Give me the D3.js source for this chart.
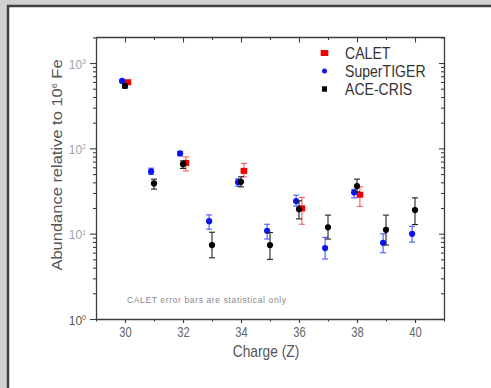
<!DOCTYPE html>
<html>
<head>
<meta charset="utf-8">
<script src="https://cdn.jsdelivr.net/npm/d3@7"></script>
<style>
  body { margin: 0; background: #d3d3d3; }
  svg { display: block; font-family: "Liberation Sans", Arial, sans-serif; }
</style>
</head>
<body>
<svg id="chart" width="491" height="388"></svg>
<script>
// tick values
const majorZ = [30, 32, 34, 36, 38, 40];
const minorZ = [29, 31, 33, 35, 37, 39, 41];
const yDecades = [1, 10, 100, 1000];
const yExp = ['0', '1', '2', '3'];

// CALET
const caletZ = [30, 32, 34, 36, 38];
const caletVal = [596, 67.6, 54.5, 19.8, 28.6];
const caletLo = [570, 54.5, 46.4, 12.9, 20.9];
const caletHi = [625, 79.5, 66.6, 26.6, 35.4];

// SuperTIGER
const superZ = [30, 31, 32, 33, 34, 35, 36, 37, 38, 39, 40];
const superVal = [617, 53.6, 87.2, 14.0, 40.2, 10.8, 24.1, 6.78, 30.4, 7.83, 9.97];
const superLo = [600, 49.5, 82, 11.3, 36, 8.65, 21.1, 5.04, 26.3, 5.98, 7.97];
const superHi = [635, 58.6, 92, 16.6, 44, 12.9, 28.3, 9.05, 33.0, 9.97, 12.2];

// ACE-CRIS
const aceZ = [30, 31, 32, 33, 34, 35, 36, 37, 38, 39, 40];
const aceVal = [539, 38.8, 65.3, 7.36, 40.5, 7.36, 19.4, 11.9, 36.1, 11.1, 18.9];
const aceLo = [510, 33.3, 58.2, 5.22, 35.4, 5.0, 14.9, 8.65, 30.9, 7.36, 12.8];
const aceHi = [570, 43.6, 71.4, 10.4, 46.4, 10.3, 24.3, 16.5, 43.6, 16.5, 26.3];

const series = [
  { name: 'CALET', z: caletZ, v: caletVal, lo: caletLo, hi: caletHi, off: 0.1,
    color: '#f20000', err: '#ff5a5a', shape: 'square' },
  { name: 'SuperTIGER', z: superZ, v: superVal, lo: superLo, hi: superHi, off: -0.1,
    color: '#0a14f0', err: '#4a58ff', shape: 'circle' },
  { name: 'ACE-CRIS', z: aceZ, v: aceVal, lo: aceLo, hi: aceHi, off: 0,
    color: '#000000', err: '#222222', shape: 'circle' }
];

const svg = d3.select('#chart');

// panel
svg.append('rect')
  .attr('x', 0).attr('y', 0).attr('width', 491).attr('height', 388)
  .attr('fill', '#d0d0d0');
svg.append('rect')
  .attr('x', 8).attr('y', 6).attr('width', 500).attr('height', 400)
  .attr('fill', '#fff').attr('stroke', '#404040').attr('stroke-width', 2.5);

const margin = { top: 37, right: 47, bottom: 69, left: 96 };
const width = 491 - margin.left - margin.right;
const height = 388 - margin.top - margin.bottom;

const x = d3.scaleLinear().domain([29, 41]).range([0, width]);
const y = d3.scaleLog().domain([1, 2020]).range([height, 0]);

const g = svg.append('g')
  .attr('transform', 'translate(' + margin.left + ',' + margin.top + ')');

const minorY = [];
yDecades.forEach(function (d) {
  for (let k = 2; k <= 9; k++) {
    if (d * k < 2020) minorY.push(d * k);
  }
});

const axisColor = '#3c3c3c';

function styleAxis(sel) {
  sel.selectAll('.domain').attr('stroke', axisColor).attr('stroke-width', 1.3);
  sel.selectAll('.tick line').attr('stroke', axisColor).attr('stroke-width', 1.1);
}

// bottom axis
const axBottom = g.append('g')
  .attr('transform', 'translate(0,' + height + ')')
  .call(d3.axisBottom(x).tickValues(majorZ).tickSize(4).tickSizeOuter(0).tickPadding(4.3));
styleAxis(axBottom);
axBottom.selectAll('.tick text')
  .attr('font-size', 14).attr('fill', '#666')
  .attr('transform', 'scale(0.8,1)');
g.append('g')
  .attr('transform', 'translate(0,' + height + ')')
  .call(d3.axisBottom(x).tickValues(minorZ).tickSize(2.5).tickFormat(''))
  .call(function (s) { s.select('.domain').remove(); styleAxis(s); });

// top axis (ticks inward)
const axTop = g.append('g')
  .call(d3.axisTop(x).tickValues(majorZ).tickSize(-5.5).tickSizeOuter(0).tickFormat(''));
styleAxis(axTop);
g.append('g')
  .call(d3.axisTop(x).tickValues(minorZ).tickSize(-3).tickFormat(''))
  .call(function (s) { s.select('.domain').remove(); styleAxis(s); });

// left axis
const axLeft = g.append('g')
  .call(d3.axisLeft(y).tickValues(yDecades).tickSize(6).tickSizeOuter(0).tickPadding(4)
    .tickFormat(function () { return ''; }));
styleAxis(axLeft);
axLeft.selectAll('.tick text').each(function (d, i) {
  const t = d3.select(this)
    .attr('font-size', 12)
    .attr('dy', '0.42em')
    .attr('fill', i === 0 ? '#555' : '#9aa3ad');
  t.append('tspan').text('10');
  t.append('tspan').attr('dy', -4.5).attr('font-size', 7).text(yExp[i]);
});
g.append('g')
  .call(d3.axisLeft(y).tickValues(minorY).tickSize(3).tickFormat(''))
  .call(function (s) { s.select('.domain').remove(); styleAxis(s); });

// right axis (ticks inward)
const axRight = g.append('g')
  .attr('transform', 'translate(' + width + ',0)')
  .call(d3.axisRight(y).tickValues(yDecades).tickSize(-5).tickSizeOuter(0).tickFormat(''));
styleAxis(axRight);
g.append('g')
  .attr('transform', 'translate(' + width + ',0)')
  .call(d3.axisRight(y).tickValues(minorY).tickSize(-3).tickFormat(''))
  .call(function (s) { s.select('.domain').remove(); styleAxis(s); });

// axis titles
g.append('text')
  .attr('transform', 'translate(' + (width / 2 - 4) + ',' + (height + 38) + ') scale(0.86,1)')
  .attr('text-anchor', 'middle')
  .attr('font-size', 16)
  .attr('fill', '#555')
  .text('Charge (Z)');

const ylab = g.append('text')
  .attr('transform', 'translate(-34,' + 128 + ') scale(0.85,1) rotate(-90)')
  .attr('text-anchor', 'middle')
  .attr('font-size', 16.5)
  .attr('fill', '#555');
ylab.append('tspan').text('Abundance relative to 10');
ylab.append('tspan').attr('dy', -6).attr('font-size', 9).text('6');
ylab.append('tspan').attr('dy', 6).text(' Fe');

// note
g.append('text')
  .attr('x', 31).attr('y', 266)
  .attr('font-size', 8.5)
  .attr('fill', '#8a8a8a')
  .attr('textLength', 159)
  .attr('lengthAdjust', 'spacing')
  .text('CALET error bars are statistical only');

// data: error bars then markers
series.forEach(function (s) {
  const pts = s.z.map(function (z, i) {
    return { z: z + s.off, v: s.v[i], lo: s.lo[i], hi: s.hi[i] };
  });
  const sg = g.append('g');
  const eb = sg.selectAll('g.err').data(pts).enter().append('g')
    .attr('stroke', s.err).attr('stroke-width', 1.1);
  eb.append('line')
    .attr('x1', function (d) { return x(d.z); }).attr('x2', function (d) { return x(d.z); })
    .attr('y1', function (d) { return y(d.lo); }).attr('y2', function (d) { return y(d.hi); });
  eb.append('line')
    .attr('x1', function (d) { return x(d.z) - 3; }).attr('x2', function (d) { return x(d.z) + 3; })
    .attr('y1', function (d) { return y(d.lo); }).attr('y2', function (d) { return y(d.lo); });
  eb.append('line')
    .attr('x1', function (d) { return x(d.z) - 3; }).attr('x2', function (d) { return x(d.z) + 3; })
    .attr('y1', function (d) { return y(d.hi); }).attr('y2', function (d) { return y(d.hi); });

  if (s.shape === 'square') {
    sg.selectAll('rect').data(pts).enter().append('rect')
      .attr('x', function (d) { return x(d.z) - 3.3; })
      .attr('y', function (d) { return y(d.v) - 3; })
      .attr('width', 6.6).attr('height', 6)
      .attr('fill', s.color);
  } else {
    sg.selectAll('circle').data(pts).enter().append('circle')
      .attr('cx', function (d) { return x(d.z); })
      .attr('cy', function (d) { return y(d.v); })
      .attr('r', 3.1)
      .attr('fill', s.color);
  }
});

// legend
const legend = g.append('g').attr('transform', 'translate(' + (324.5 - margin.left) + ',0)');
series.forEach(function (s, i) {
  const cy = 16 + i * 18;
  if (i === 0) {
    legend.append('rect').attr('x', -3.8).attr('y', cy - 3).attr('width', 7.6).attr('height', 6)
      .attr('fill', s.color);
  } else if (i === 1) {
    legend.append('circle').attr('cx', 0).attr('cy', cy).attr('r', 2.5).attr('fill', s.color);
  } else {
    legend.append('rect').attr('x', -2.5).attr('y', cy - 2.7).attr('width', 5).attr('height', 5.4)
      .attr('fill', s.color);
  }
  legend.append('text')
    .attr('transform', 'translate(20.5,' + (cy + 5.8) + ') scale(0.88,1)')
    .attr('font-size', 16)
    .attr('fill', '#333')
    .text(s.name);
});
</script>
</body>
</html>
